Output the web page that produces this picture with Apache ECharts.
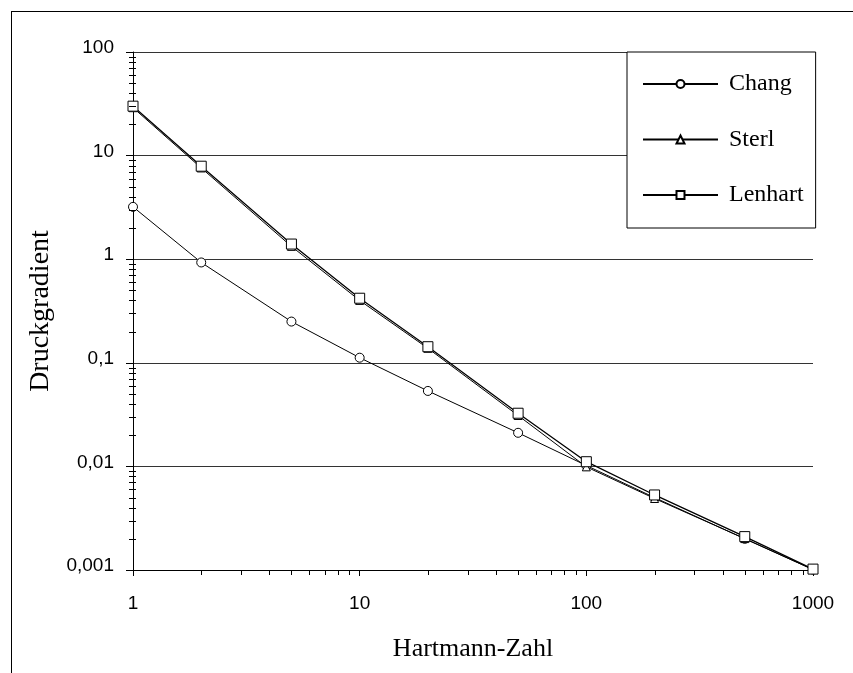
<!DOCTYPE html>
<html><head><meta charset="utf-8">
<script src="https://cdn.jsdelivr.net/npm/echarts@6/dist/echarts.min.js"></script>
<style>html,body{margin:0;padding:0;background:#fff}#c{width:853px;height:673px}</style>
</head><body><div id="c"></div>
<script>
// Hartmann numbers (x) and pressure gradient values (y)
const hartmann = [1, 2, 5, 10, 20, 50, 100, 200, 500, 1000];
const chang    = [3.2, 0.93, 0.25, 0.112, 0.0535, 0.0211, 0.0102, 0.0050, 0.0020, 0.00101];
const sterl    = [29, 7.6, 1.33, 0.40, 0.138, 0.031, 0.0099, 0.0049, 0.00201, 0.00101];
const lenhart  = [30, 7.9, 1.40, 0.42, 0.143, 0.0326, 0.0111, 0.0053, 0.0021, 0.00102];

const xTickLabels = ['1', '10', '100', '1000'];
const yTickLabels = ['0,001', '0,01', '0,1', '1', '10', '100'];
const xMinorTicks = [2,3,4,5,6,7,8,9,20,30,40,50,60,70,80,90,200,300,400,500,600,700,800,900];
const yMinorTicks = [0.002,0.003,0.004,0.005,0.006,0.007,0.008,0.009,
                     0.02,0.03,0.04,0.05,0.06,0.07,0.08,0.09,
                     0.2,0.3,0.4,0.5,0.6,0.7,0.8,0.9,
                     2,3,4,5,6,7,8,9,20,30,40,50,60,70,80,90];
const X_MIN = 1, X_MAX = 1000, Y_MIN = 0.001, Y_MAX = 100;

const chart = echarts.init(document.getElementById('c'), null, {renderer: 'canvas'});

function lineSeries(name, values, symbol, size, width, z) {
  return {
    name, type: 'line', z,
    data: hartmann.map((x, i) => [x, values[i]]),
    symbol, symbolSize: size, showAllSymbol: true,
    lineStyle: {color: '#000', width},
    itemStyle: {color: '#fff', borderColor: '#000', borderWidth: 1},
    emphasis: {disabled: true}
  };
}

const option = {
  animation: false,
  backgroundColor: '#fff',
  grid: {left: 133, right: 40, top: 52, bottom: 103, containLabel: false},
  legend: {
    data: ['Chang', 'Sterl', 'Lenhart'],
    orient: 'vertical', left: 627, top: 52,
    padding: [20, 12, 21, 15],
    itemWidth: 75, itemHeight: 10, itemGap: 31.5,
    backgroundColor: '#fff', borderColor: '#000', borderWidth: 1, borderRadius: 0,
    selectedMode: false,
    formatter: name => '{t|' + name + '}',
    textStyle: {
      fontFamily: 'Liberation Serif', fontSize: 24, color: '#000', lineHeight: 24,
      rich: {t: {fontFamily: 'Liberation Serif', fontSize: 24, color: '#000', lineHeight: 24, padding: [0, 0, 0, 6]}}
    }
  },
  xAxis: {
    type: 'log', logBase: 10, min: X_MIN, max: X_MAX,
    axisLine: {lineStyle: {color: '#000', width: 1}},
    axisTick: {show: true, length: 6, lineStyle: {color: '#000'}},
    axisLabel: {
      color: '#000', fontFamily: 'Liberation Sans', fontSize: 19, margin: 24,
      formatter: v => xTickLabels[Math.round(Math.log10(v))]
    },
    splitLine: {show: false},
    name: 'Hartmann-Zahl', nameLocation: 'middle', nameGap: 66,
    nameTextStyle: {fontFamily: 'Liberation Serif', fontSize: 26, color: '#000'}
  },
  yAxis: {
    type: 'log', logBase: 10, min: Y_MIN, max: Y_MAX,
    axisLine: {lineStyle: {color: '#000', width: 1}},
    axisTick: {show: true, length: 7, lineStyle: {color: '#000'}},
    axisLabel: {
      color: '#000', fontFamily: 'Liberation Sans', fontSize: 19, margin: 19,
      verticalAlign: 'bottom', lineHeight: 8,
      formatter: v => yTickLabels[Math.round(Math.log10(v)) + 3]
    },
    splitLine: {show: true, lineStyle: {color: '#333', width: 1}},
    name: 'Druckgradient', nameLocation: 'middle', nameGap: 78, nameRotate: 90,
    nameTextStyle: {fontFamily: 'Liberation Serif', fontSize: 28, color: '#000'}
  },
  graphic: [
    {type: 'line', shape: {x1: 11, y1: 11.5, x2: 853, y2: 11.5}, style: {stroke: '#000', lineWidth: 1}},
    {type: 'line', shape: {x1: 11.5, y1: 11, x2: 11.5, y2: 673}, style: {stroke: '#000', lineWidth: 1}}
  ],
  series: [
    lineSeries('Chang', chang, 'circle', 9, 1, 3),
    lineSeries('Sterl', sterl, 'triangle', 8, 1, 4),
    lineSeries('Lenhart', lenhart, 'rect', 10, 1.3, 5),
    {
      type: 'custom', silent: true, clip: false, z: 6,
      data: xMinorTicks.map(v => [v, Y_MIN]),
      renderItem: (params, api) => {
        const p = api.coord([api.value(0), api.value(1)]);
        const x = Math.round(p[0]) + 0.5;
        return {type: 'line', shape: {x1: x, y1: p[1], x2: x, y2: p[1] + 5},
                style: {stroke: '#000', lineWidth: 1}};
      }
    },
    {
      type: 'custom', silent: true, clip: false, z: 6,
      data: yMinorTicks.map(v => [X_MIN, v]),
      renderItem: (params, api) => {
        const p = api.coord([api.value(0), api.value(1)]);
        const y = Math.round(p[1]) + 0.5;
        return {type: 'line', shape: {x1: p[0] - 4, y1: y, x2: p[0] + 3, y2: y},
                style: {stroke: '#000', lineWidth: 1}};
      }
    }
  ]
};
chart.setOption(option);
</script>
</body></html>
